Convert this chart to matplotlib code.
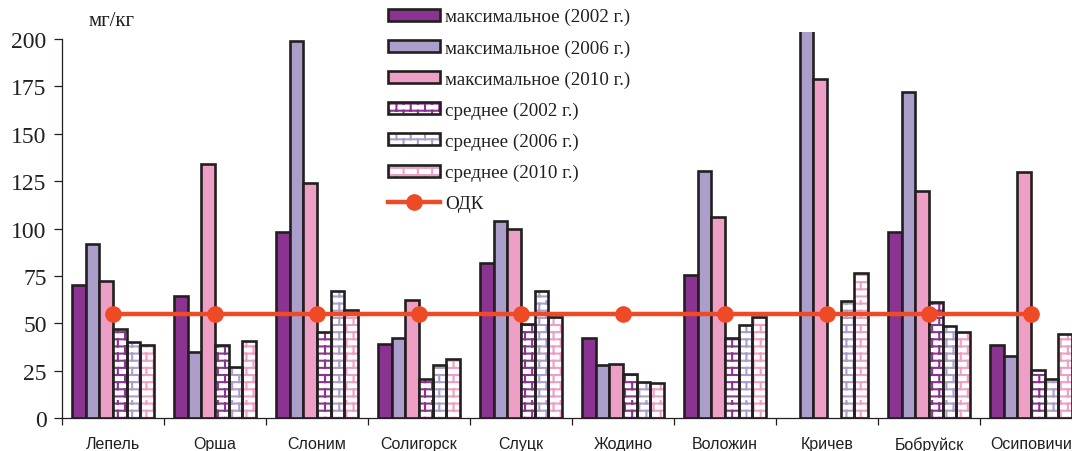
import warnings
import numpy as np
import matplotlib
matplotlib.use("Agg")
import matplotlib.pyplot as plt
from matplotlib import hatch as mhatch
from matplotlib.path import Path
from matplotlib.patches import Patch
from matplotlib.lines import Line2D
from matplotlib.legend_handler import HandlerTuple

warnings.filterwarnings("ignore")

# ---- data (мг/кг) ----
cities = ["Лепель", "Орша", "Слоним", "Солигорск", "Слуцк",
          "Жодино", "Воложин", "Кричев", "Бобруйск", "Осиповичи"]

max_2002 = [70, 64.5, 98, 39, 82, 42, 75.5, np.nan, 98, 38.5]
max_2006 = [92, 35, 199, 42, 104, 28, 130.5, 215, 172, 32.5]
max_2010 = [72.5, 134, 124, 62.5, 100, 28.5, 106, 179, 120, 130]
mean_2002 = [47, 38.5, 45.5, 20.5, 49.5, 23, 42, np.nan, 61, 25.5]
mean_2006 = [40, 27, 67, 28, 67, 19, 49, 62, 48.5, 20.5]
mean_2010 = [38.5, 40.5, 57, 31, 53.5, 18.5, 53.5, 76.5, 45.5, 44.5]
odk = [55] * len(cities)

labels_max = ["максимальное (2002 г.)", "максимальное (2006 г.)",
              "максимальное (2010 г.)"]
labels_mean = ["среднее (2002 г.)", "среднее (2006 г.)", "среднее (2010 г.)"]
label_odk = "ОДК"
unit_label = "мг/кг"

colors = ["#8B3390", "#AC9ECB", "#EE9FC5"]
edge = "#231F20"
odk_color = "#EE4A26"


# ---- brick hatch pattern, selected with the letter "b" ----
class BrickHatch(mhatch.HatchPatternBase):
    rows = 14
    bricks = 7

    def __init__(self, hatch, density):
        on = "b" in hatch
        self.num_vertices = (self.rows * 2 * (1 + self.bricks)) if on else 0

    def set_vertices_and_codes(self, vertices, codes):
        n, m = self.rows, self.bricks
        k = 0
        for i in range(n):
            y0 = (i + 0.5) / n
            y1 = (i + 1.5) / n
            vertices[k] = (0.0, y0)
            vertices[k + 1] = (1.0, y0)
            codes[k] = Path.MOVETO
            codes[k + 1] = Path.LINETO
            k += 2
            off = (0.25 if i % 2 else 0.75) / m
            for j in range(m):
                x = j / m + off
                vertices[k] = (x, y0)
                vertices[k + 1] = (x, min(y1, 1.0))
                codes[k] = Path.MOVETO
                codes[k + 1] = Path.LINETO
                k += 2


mhatch._hatch_types.append(BrickHatch)

plt.rcParams["hatch.linewidth"] = 1.5

W, H = 1072, 452
fig = plt.figure(figsize=(W / 100, H / 100), dpi=100)
ax = fig.add_axes([62 / W, (H - 419) / H, 1020 / W, 386 / H])

n = len(cities)
x = np.arange(n)
bw = 0.134
offsets = (np.arange(6) - 2.5) * bw
lw = 1.9

max_series = [max_2002, max_2006, max_2010]
mean_series = [mean_2002, mean_2006, mean_2010]

for i, vals in enumerate(max_series):
    ax.bar(x + offsets[i], vals, width=bw, color=colors[i],
           edgecolor=edge, linewidth=lw, zorder=2)

for i, vals in enumerate(mean_series):
    ax.bar(x + offsets[i + 3], vals, width=bw, facecolor="white",
           edgecolor=colors[i], linewidth=0, hatch="b", zorder=2)
    ax.bar(x + offsets[i + 3], vals, width=bw, fill=False,
           edgecolor=edge, linewidth=lw, zorder=3)

ax.plot(x, odk, color=odk_color, linewidth=3.2, marker="o",
        markersize=11, zorder=4, solid_capstyle="butt")

ax.set_xlim(-0.5, n - 0.5)
ax.set_ylim(0, 203.7)
ax.set_yticks(np.arange(0, 201, 25))
ax.spines["left"].set_bounds(0, 200)
for s in ("top", "right"):
    ax.spines[s].set_visible(False)
for s in ("left", "bottom"):
    ax.spines[s].set_color(edge)
    ax.spines[s].set_linewidth(0.9)

ax.tick_params(axis="y", direction="out", length=6, width=0.9, color=edge,
               pad=5, labelsize=17, labelcolor=edge)
for t in ax.get_yticklabels():
    t.set_fontfamily("Liberation Serif")

ax.set_xticks(x)
ax.set_xticklabels(cities, fontfamily="Liberation Sans", fontsize=11.5,
                   color=edge)
ax.set_xticks(np.arange(n + 1) - 0.5, minor=True)
ax.tick_params(axis="x", which="major", length=0, pad=13)
ax.tick_params(axis="x", which="minor", direction="out", length=5,
               width=0.9, color=edge)

fig.text(112 / W, 1 - 22 / H, unit_label, fontfamily="Liberation Serif",
         fontsize=15, color=edge, ha="center", va="center")

# ---- legend ----
handles = []
for i in range(3):
    handles.append(Patch(facecolor=colors[i], edgecolor=edge, linewidth=lw))
for i in range(3):
    handles.append((Patch(facecolor="white", edgecolor=colors[i],
                          linewidth=0, hatch="b"),
                    Patch(fill=False, edgecolor=edge, linewidth=lw)))
handles.append(Line2D([], [], color=odk_color, linewidth=3.2, marker="o",
                      markersize=11))
leg = fig.legend(handles, labels_max + labels_mean + [label_odk],
                 loc="upper left", bbox_to_anchor=(388 / W, 1 - 9 / H),
                 frameon=False,
                 prop={"family": "Liberation Serif", "size": 13.7},
                 handlelength=2.75, handleheight=0.6, handletextpad=0.25,
                 labelspacing=0.73, borderpad=0, borderaxespad=0,
                 handler_map={tuple: HandlerTuple(ndivide=1, pad=0)})
for t in leg.get_texts():
    t.set_color(edge)

fig.savefig("out.png", dpi=100)
